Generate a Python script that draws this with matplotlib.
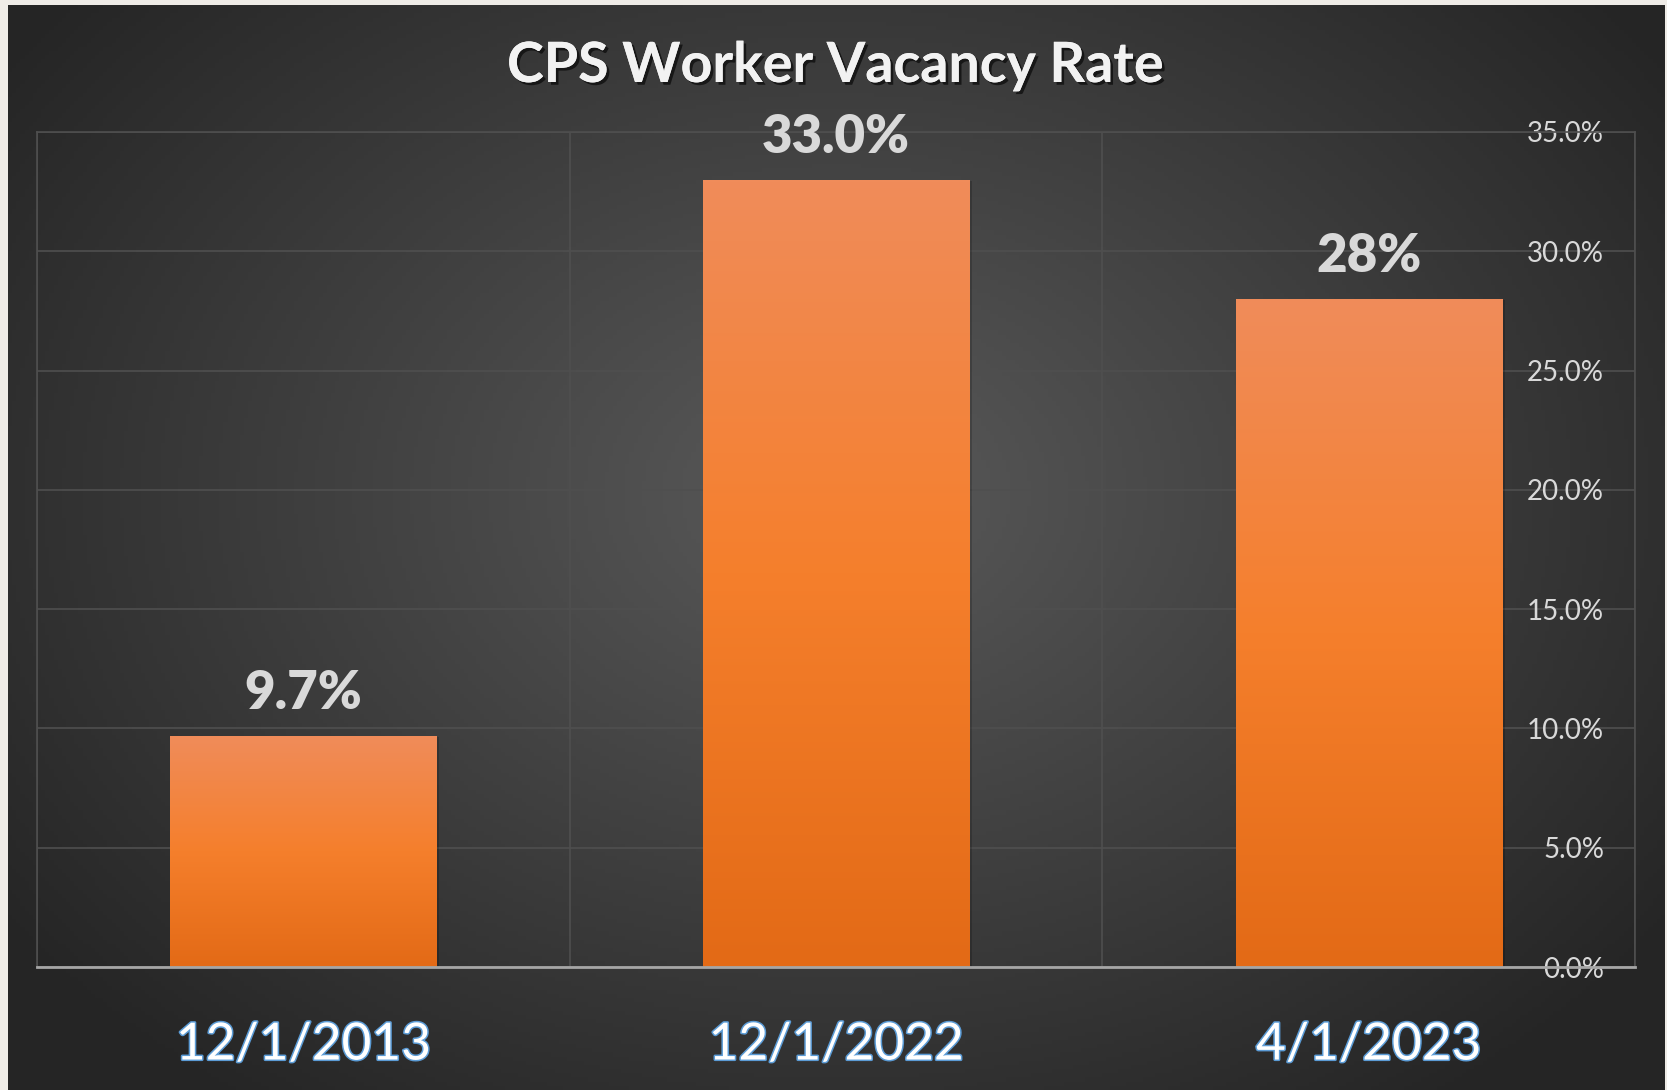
import numpy as np
import matplotlib.pyplot as plt
import matplotlib.patheffects as pe
from matplotlib.colors import LinearSegmentedColormap
from matplotlib.ticker import PercentFormatter

# Chart data
dates = ['12/1/2013', '12/1/2022', '4/1/2023']
vacancy = [9.7, 33.0, 28.0]
value_labels = ['9.7%', '33.0%', '28%']
y_ticks = [0, 5, 10, 15, 20, 25, 30, 35]

plt.rcParams['font.family'] = ['Lato', 'DejaVu Sans']

fig = plt.figure(figsize=(16.67, 10.90), dpi=100)
fig.patch.set_facecolor('#efece7')

# Dark panel with a soft radial gradient
bg = fig.add_axes([8 / 1667, 0, 1656 / 1667, 1085 / 1090], zorder=-5)
gx, gy = np.meshgrid(np.linspace(0, 1, 400), np.linspace(0, 1, 260))
r = np.sqrt(((gx - 0.50) / 0.62) ** 2 + ((gy - 0.45) / 0.70) ** 2)
r = np.clip(r, 0, 1)
c_in = np.array([0x5a, 0x5a, 0x5a]) / 255
c_out = np.array([0x25, 0x25, 0x25]) / 255
img = c_in[None, None, :] * (1 - r[..., None]) + c_out[None, None, :] * r[..., None]
bg.imshow(img, aspect='auto', extent=(0, 1, 0, 1), origin='upper')
bg.set_axis_off()

ax = fig.add_axes([37 / 1667, (1090 - 967) / 1090, (1635 - 37) / 1667, (967 - 132) / 1090])
ax.set_facecolor('none')

x = np.arange(len(dates))
bars = ax.bar(x, vacancy, width=0.5, color='#f47d2b', zorder=3,
              path_effects=[pe.withSimplePatchShadow(offset=(2, -1), shadow_rgbFace='black', alpha=0.18)])

# Vertical orange gradient on each bar
cmap = LinearSegmentedColormap.from_list('bar', ['#e36a16', '#f57f2c', '#f08c5a'])
grad = np.linspace(0, 1, 256).reshape(-1, 1)
for b in bars:
    bx, by = b.get_x(), b.get_y()
    im = ax.imshow(grad, cmap=cmap, aspect='auto', origin='lower', zorder=4,
                   extent=(bx, bx + b.get_width(), by, by + b.get_height()))
    im.set_clip_path(b)

for xi, v, lab in zip(x, vacancy, value_labels):
    ax.annotate(lab, (xi, v), xytext=(0, 19.5), textcoords='offset points',
                ha='center', va='baseline', fontsize=38, fontweight='heavy',
                color='#d9d9d9', zorder=5)

ax.set_xlim(-0.5, len(dates) - 0.5)
ax.set_ylim(0, 35)

# Y axis on the right, labels sitting inside the plot area
ax.yaxis.tick_right()
ax.set_yticks(y_ticks)
ax.yaxis.set_major_formatter(PercentFormatter(decimals=1))
ax.tick_params(axis='y', length=0, pad=-22.3, labelsize=20, labelcolor='#d9d9d9')
for t in ax.get_yticklabels():
    t.set_horizontalalignment('right')

ax.set_xticks(x)
ax.set_xticklabels(dates, fontsize=37, color='#ffffff',
                   path_effects=[pe.withStroke(linewidth=2.2, foreground='#5b9bd5')])
ax.tick_params(axis='x', length=0, pad=40)

ax.set_xticks(np.arange(-0.5, len(dates), 1), minor=True)
ax.tick_params(axis='x', which='minor', length=0)
ax.grid(True, which='minor', axis='x', color='#4f4f4f', linewidth=1.2, zorder=0)
ax.grid(True, which='major', axis='y', color='#4f4f4f', linewidth=1.2, zorder=0)
ax.set_axisbelow(True)

for s in ['left', 'right', 'top']:
    ax.spines[s].set_color('#4f4f4f')
    ax.spines[s].set_linewidth(1.2)
ax.spines['bottom'].set_color('#a6a6a6')
ax.spines['bottom'].set_linewidth(2)
ax.spines['bottom'].set_zorder(6)

fig.text(835 / 1667, 1 - 66 / 1090, 'CPS Worker Vacancy Rate', ha='center', va='center',
         fontsize=40, fontweight='bold', color='#f2f2f2',
         path_effects=[pe.withSimplePatchShadow(offset=(2, -2), shadow_rgbFace='black', alpha=0.6),
                       pe.Normal()])

fig.savefig('out.png', dpi=100, facecolor=fig.get_facecolor())
